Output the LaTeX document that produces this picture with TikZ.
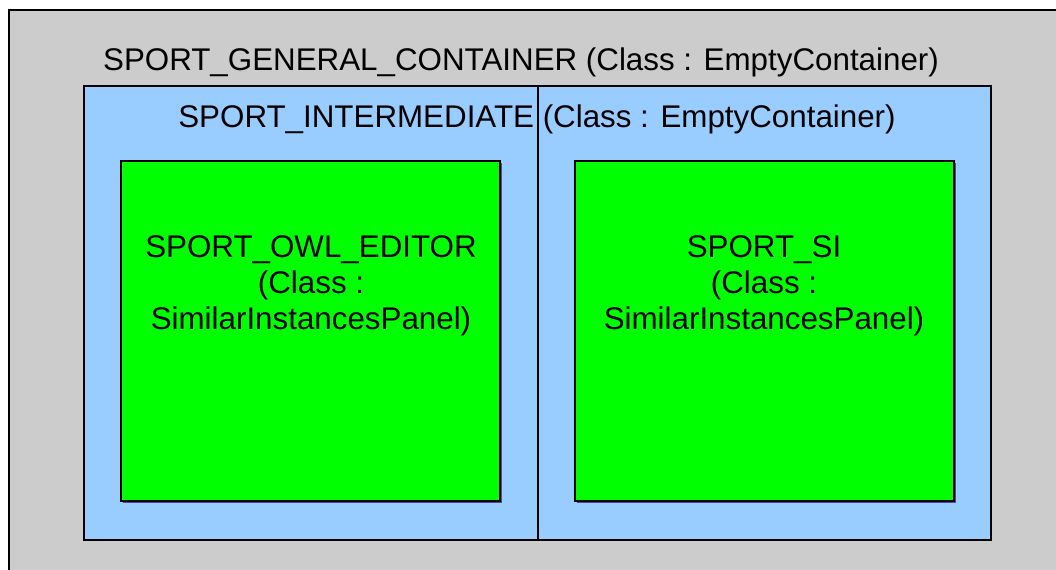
\documentclass[tikz,border=0pt]{standalone}
\usepackage{fontspec}
\setmainfont{Liberation Sans}
\begin{document}
\begin{tikzpicture}[x=0.75pt,y=-0.75pt,
  container/.style={draw=black,line width=0.8pt},
  panel/.style={draw=black,fill=green!100!black,line width=0.8pt},
  lbl/.style={font=\fontsize{23.5}{27}\selectfont,inner sep=0pt,align=center}]
\useasboundingbox (0,0) rectangle (1056,570);
\fill[white] (0,0) rectangle (1056,570);
% outer container
\begin{scope}
\clip (0,0) rectangle (1056,570);
\draw[container,fill=black!20] (9,10) rectangle (1065,580);
\end{scope}
\node[lbl,anchor=base] (general) at (521,71) {SPORT\_GENERAL\_CONTAINER (Class : EmptyContainer)};
% intermediate container
\draw[container,fill={rgb,255:red,153;green,204;blue,255}] (84,86) rectangle (991,540);
\coordinate (divtop) at (538,86);
\coordinate (divbot) at (538,540);
\draw[line width=0.8pt] (divtop) -- (divbot);
\node[lbl,anchor=base] (inter) at (537,128) {SPORT\_INTERMEDIATE (Class : EmptyContainer)};
% panels
\fill[black!50!blue!70] (123,163) rectangle (502,503);
\draw[panel] (121,161) rectangle (500,501);
\fill[black!50!blue!70] (577,163) rectangle (956,503);
\draw[panel] (575,161) rectangle (954,501);
\node[lbl] (owl) at (311,286) {SPORT\_OWL\_EDITOR\\(Class :\\SimilarInstancesPanel)};
\node[lbl] (si) at (764,286) {SPORT\_SI\\(Class :\\SimilarInstancesPanel)};
\end{tikzpicture}
\end{document}
